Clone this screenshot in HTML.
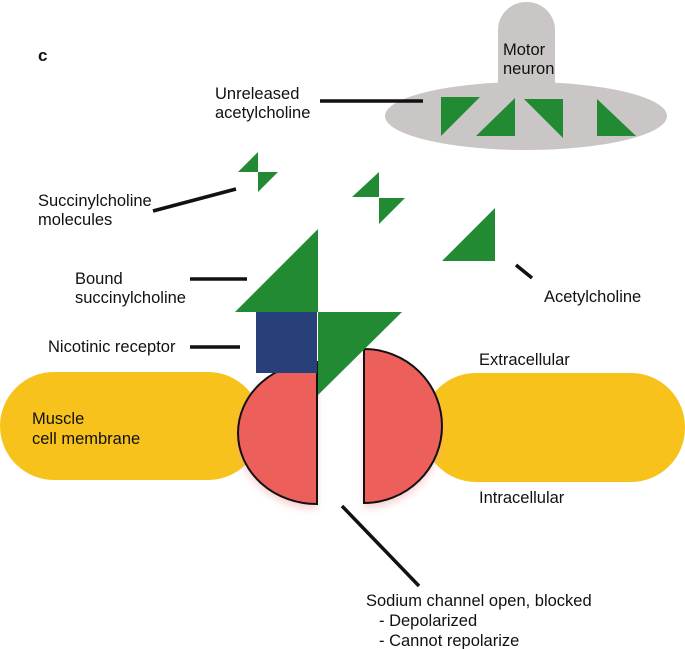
<!DOCTYPE html>
<html><head><meta charset="utf-8"><style>
html,body{margin:0;padding:0;background:#fff;}
svg{display:block;}
text{font-family:"Liberation Sans",sans-serif;font-size:16.5px;fill:#111;}
</style></head><body>
<svg width="685" height="649" viewBox="0 0 685 649" xmlns="http://www.w3.org/2000/svg">
<defs>
<filter id="glow" x="-30%" y="-30%" width="160%" height="160%"><feGaussianBlur stdDeviation="4"/></filter>
</defs>
<rect x="498" y="2" width="57" height="110" rx="28" fill="#c9c6c5"/>
<ellipse cx="526" cy="116" rx="141" ry="34" fill="#c9c6c5"/>
<g fill="#218a33">
<polygon points="441,97 480,97 441,136"/>
<polygon points="476,136 515,98 515,136"/>
<polygon points="524,99 563,99 563,138"/>
<polygon points="597,99 597,136 636,136"/>
<polygon points="238,172 258,152 258,172"/>
<polygon points="258,172 278,172 258,192"/>
<polygon points="352,197 379,172 379,197"/>
<polygon points="379,198 405,198 379,224"/>
<polygon points="442,261 495,208 495,261"/>
</g>
<rect x="0" y="372" width="262" height="108" rx="54" fill="#f8c21c"/>
<rect x="422" y="373" width="263" height="109" rx="54" fill="#f8c21c"/>
<path d="M317,373 L317,504 A79,71 0 0 1 317,362 Z" fill="#f4a0a0" opacity="0.5" filter="url(#glow)" transform="translate(0,5)"/>
<path d="M364,349 L364,503 A78,77 0 0 0 364,349 Z" fill="#f4a0a0" opacity="0.5" filter="url(#glow)" transform="translate(0,5)"/>
<path d="M317,362 L317,504 A79,71 0 0 1 317,362 Z" fill="#ec5f5b" stroke="#111" stroke-width="2"/>
<path d="M364,349 L364,503 A78,77 0 0 0 364,349 Z" fill="#ec5f5b" stroke="#111" stroke-width="2"/>
<rect x="256" y="312" width="61" height="61" fill="#27407a"/>
<polygon points="235,312 318,229 318,312" fill="#218a33"/>
<polygon points="318,312 402,312 318,395" fill="#218a33"/>
<g stroke="#111" stroke-width="3.5" stroke-linecap="butt">
<line x1="320" y1="101" x2="423" y2="101"/>
<line x1="153" y1="211" x2="236" y2="189"/>
<line x1="190" y1="279" x2="247" y2="279"/>
<line x1="190" y1="347" x2="240" y2="347"/>
<line x1="516" y1="265" x2="532" y2="278"/>
<line x1="342" y1="506" x2="419" y2="586"/>
</g>
<text x="38" y="61" style="font-weight:bold;font-size:17px">c</text>
<text x="503" y="55">Motor</text>
<text x="503" y="74">neuron</text>
<text x="215" y="99">Unreleased</text>
<text x="215" y="118">acetylcholine</text>
<text x="38" y="206">Succinylcholine</text>
<text x="38" y="225">molecules</text>
<text x="75" y="284">Bound</text>
<text x="75" y="303">succinylcholine</text>
<text x="544" y="302">Acetylcholine</text>
<text x="48" y="352">Nicotinic receptor</text>
<text x="479" y="365">Extracellular</text>
<text x="32" y="424">Muscle</text>
<text x="32" y="444">cell membrane</text>
<text x="479" y="503">Intracellular</text>
<text x="366" y="606">Sodium channel open, blocked</text>
<text x="379" y="626">- Depolarized</text>
<text x="379" y="646">- Cannot repolarize</text>
</svg>
</body></html>
